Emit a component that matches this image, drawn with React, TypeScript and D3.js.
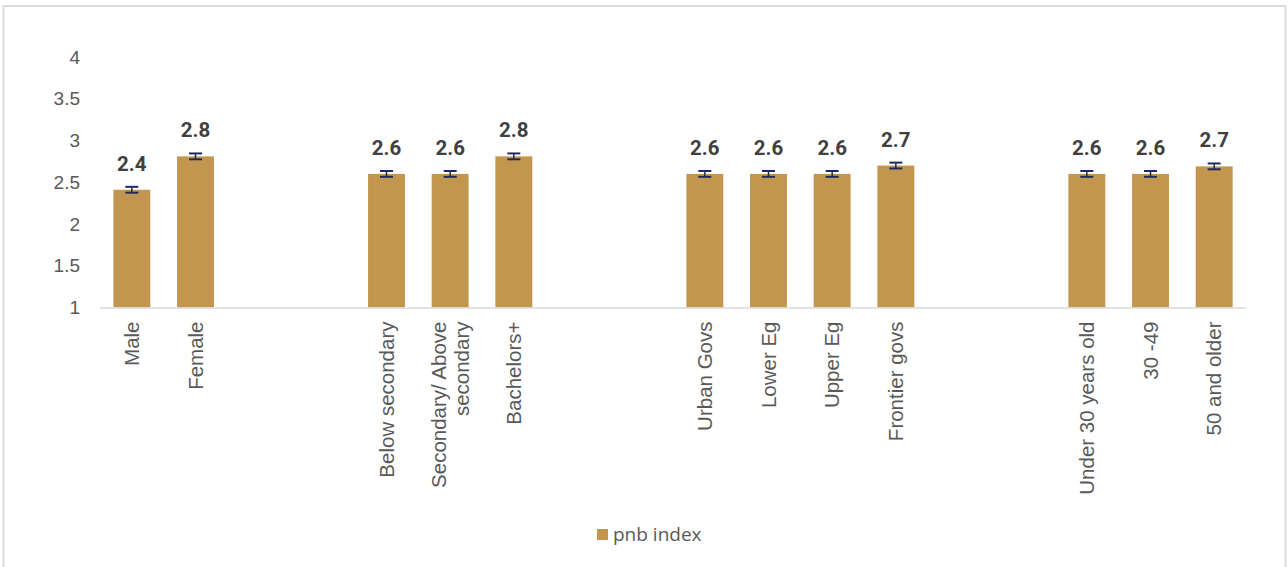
import React, { useLayoutEffect } from "react";
import * as d3 from "d3";

const categories = [
  "Male", "Female", "_gap1", "_gap2",
  "Below secondary", "Secondary/ Above secondary", "Bachelors+", "_gap3", "_gap4",
  "Urban Govs", "Lower Eg", "Upper Eg", "Frontier govs", "_gap5", "_gap6",
  "Under 30 years old", "30 -49", "50 and older",
];
const labelLines: Record<string, string[]> = {
  "Secondary/ Above secondary": ["Secondary/ Above", "secondary"],
};
const values: (number | null)[] = [
  2.41, 2.81, null, null,
  2.6, 2.6, 2.81, null, null,
  2.6, 2.6, 2.6, 2.7, null, null,
  2.6, 2.6, 2.69,
];
const errors: (number | null)[] = [
  0.035, 0.035, null, null,
  0.035, 0.035, 0.035, null, null,
  0.035, 0.035, 0.035, 0.035, null, null,
  0.035, 0.035, 0.035,
];
const yTicks = [1, 1.5, 2, 2.5, 3, 3.5, 4];
const seriesName = "pnb index";

const W = 1288;
const H = 567;
const BAR = "#C3964F";
const ERR = "#1F2A5C";
const TXT = "#595959";

export default function App() {
  useLayoutEffect(() => {
    document.body.style.margin = "0";
  }, []);

  const x = d3
    .scaleBand<string>()
    .domain(categories)
    .range([100, 1246])
    .paddingInner(0.42)
    .paddingOuter(0.21);
  const y = d3.scaleLinear().domain([1, 4]).range([307.5, 57]);
  const fmt = d3.format(".1f");
  const bw = x.bandwidth();

  return (
    <svg width={W} height={H} style={{ display: "block", background: "#fff" }}>
      <rect x={3.5} y={6} width={1282} height={620} fill="#fff" stroke="#dcdcdc" strokeWidth={2} />
      {yTicks.map((t) => (
        <text
          key={t}
          x={80}
          y={y(t)}
          dy="0.35em"
          textAnchor="end"
          fontFamily="Liberation Sans, Arial, sans-serif"
          fontSize={19}
          fill={TXT}
        >
          {t}
        </text>
      ))}
      {categories.map((c, i) => {
        const v = values[i];
        if (v == null) return null;
        const x0 = x(c)!;
        const cx = x0 + bw / 2;
        const e = errors[i] ?? 0;
        return (
          <g key={c}>
            <rect x={x0} y={y(v)} width={bw} height={y(1) - y(v)} fill={BAR} />
            <line x1={cx} x2={cx} y1={y(v + e)} y2={y(v - e)} stroke={ERR} strokeWidth={1.5} />
            <line x1={cx - 6.5} x2={cx + 6.5} y1={y(v + e)} y2={y(v + e)} stroke={ERR} strokeWidth={2} />
            <line x1={cx - 6.5} x2={cx + 6.5} y1={y(v - e)} y2={y(v - e)} stroke={ERR} strokeWidth={2} />
            <text
              x={cx}
              y={y(v) - 19}
              textAnchor="middle"
              fontFamily="Roboto, Liberation Sans, sans-serif"
              fontWeight="bold"
              fontSize={20.5}
              fill="#404040"
            >
              {fmt(v)}
            </text>
          </g>
        );
      })}
      <line x1={100} x2={1246} y1={y(1) + 0.5} y2={y(1) + 0.5} stroke="#d9d9d9" strokeWidth={1.5} />
      {categories.map((c) => {
        if (c.startsWith("_gap")) return null;
        const cx = x(c)! + bw / 2;
        const lines = labelLines[c] ?? [c];
        const lh = 23;
        return (
          <g key={"l" + c} transform={`translate(${cx},321.5) rotate(-90)`}>
            {lines.map((ln, k) => (
              <text
                key={k}
                x={0}
                y={(k - (lines.length - 1) / 2) * lh}
                dy="0.35em"
                textAnchor="end"
                fontFamily="Liberation Sans, Arial, sans-serif"
                fontSize={20.5}
                fill={TXT}
              >
                {ln}
              </text>
            ))}
          </g>
        );
      })}
      <rect x={597} y={529} width={11} height={11} fill={BAR} />
      <text
        x={613}
        y={540.5}
        fontFamily="Open Sans, sans-serif"
        fontSize={19}
        fill={TXT}
      >
        {seriesName}
      </text>
    </svg>
  );
}
